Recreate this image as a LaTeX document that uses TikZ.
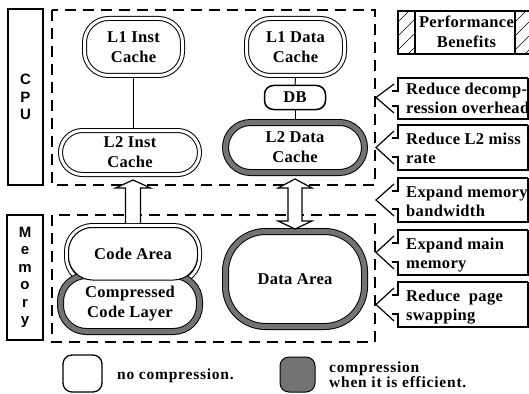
\documentclass[tikz,border=0pt]{standalone}
\usepackage{fontspec}
\newfontfamily\cellfamily{Liberation Serif}[LetterSpace=2]
\newfontfamily\legendfamily{Liberation Serif}[LetterSpace=5]
\newfontfamily\sidefamily{Liberation Sans}
\newcommand\cellfont{\cellfamily\bfseries\fontsize{16.5}{20}\selectfont}
\newcommand\legendfont{\legendfamily\bfseries\fontsize{15.5}{15}\selectfont}
\newcommand\sidefont{\sidefamily\bfseries\fontsize{15}{17.5}\selectfont}
\definecolor{shade}{gray}{0.45}
\usetikzlibrary{calc}

\begin{document}
\begin{tikzpicture}[x=1pt,y=-1pt,
    cell/.style={draw,line width=1pt,double=white,double distance=3pt,fill=white,
      rounded corners=24pt,outer sep=2.5pt,inner sep=0pt,align=center,font=\cellfont},
    graycell/.style={cell,double=shade,double distance=5pt,outer sep=3.5pt},
    dashbox/.style={line width=1.3pt,dash pattern=on 11pt off 7pt},
    sidebox/.style={draw,line width=1.5pt,inner sep=0pt,align=center,font=\sidefont},
    hollow/.style={draw,line width=1.2pt,fill=white,line join=miter},
    benefit/.style={line width=1.2pt},
    benefittext/.style={font=\cellfont,anchor=base west,inner sep=0pt}]
  \useasboundingbox (0,0) rectangle (529,393);

  % side labels
  \node[sidebox,minimum width=35pt,minimum height=176pt] (cpu) at (25.5,97) {C\\P\\U};
  \node[sidebox,minimum width=36pt,minimum height=125pt] (memory) at (25,277.5) {M\\e\\m\\o\\r\\y};

  % dashed regions
  \draw[dashbox] (52,10) rectangle (375,185);
  \draw[dashbox] (52,215) rectangle (375,342);

  % caches
  \node[cell,minimum width=98pt,minimum height=57pt] (l1inst) at (133.5,47) {L1 Inst\\Cache};
  \node[cell,minimum width=98pt,minimum height=57pt] (l1data) at (295.5,47) {L1 Data\\Cache};
  \node[draw,line width=1.5pt,fill=white,rounded corners=9pt,minimum width=61pt,
    minimum height=24pt,inner sep=0pt,font=\cellfont] (db) at (295,97.5) {DB};
  \node[cell,minimum width=139pt,minimum height=44pt,rounded corners=22pt] (l2inst) at (130,152.5) {L2 Inst\\Cache};
  \node[graycell,minimum width=139pt,minimum height=50pt,rounded corners=25pt] (l2data) at (295,147.5) {L2 Data\\Cache};

  \draw[line width=1pt] (l1inst.south) -- (l1inst.south |- l2inst.north);
  \draw[line width=1pt] (l1data.south) -- (db.north);
  \draw[line width=1pt] (db.south) -- (db.south |- l2data.north);

  % memory areas
  \node[cell,minimum width=133pt,minimum height=57.5pt,rounded corners=26pt] (codearea) at (133,254.25) {};
  \node[graycell,minimum width=139pt,minimum height=56pt,rounded corners=26pt] (codelayer) at (130,303.5) {Compressed\\Code Layer};
  \node[draw,line width=1pt,fill=white,rounded corners=24pt,minimum width=129pt,
    minimum height=52.5pt,inner sep=0pt,font=\cellfont] (codetext) at (133,253.75) {Code Area};
  \node[graycell,minimum width=139pt,minimum height=95pt,rounded corners=40pt] (dataarea) at (295,279) {Data Area};

  % hollow arrows
  \coordinate (ctip) at ($(l2inst.south -| codearea.north)+(0,3)$);
  \draw[hollow] ($(codearea.north)+(-7.5,0)$) -- ($(ctip)+(-7.5,8)$) -- ($(ctip)+(-17.5,8)$)
    -- (ctip) -- ($(ctip)+(17.5,8)$) -- ($(ctip)+(7.5,8)$) -- ($(codearea.north)+(7.5,0)$);
  \coordinate (dtop) at ($(l2data.south)+(0,3)$);
  \coordinate (dbot) at ($(dataarea.north)+(0,1)$);
  \draw[hollow] (dtop) -- ($(dtop)+(17,9)$) -- ($(dtop)+(7,9)$) -- ($(dbot)+(7,-8)$)
    -- ($(dbot)+(17,-8)$) -- (dbot) -- ($(dbot)+(-17,-8)$) -- ($(dbot)+(-7,-8)$)
    -- ($(dtop)+(-7,9)$) -- ($(dtop)+(-17,9)$) -- cycle;

  % performance benefits
  \draw[benefit] (398,11) rectangle (540,54);
  \draw[benefit] (415,11) -- (415,54);
  \draw[benefit] (515,11) -- (515,54);
  \begin{scope}
    \clip (398,11) rectangle (415,54);
    \foreach \k in {0,...,4}
      \draw (398,22+14*\k) -- ++(20,-20);
  \end{scope}
  \begin{scope}
    \clip (515,11) rectangle (529,54);
    \foreach \k in {0,...,4}
      \draw (515,22+14*\k) -- ++(20,-20);
  \end{scope}
  \node[font=\cellfont,align=center,inner sep=0pt] (perf) at (466.5,32) {Performance\\Benefits};

  \foreach \t/\m/\b/\one/\two in {78/97.5/119/Reduce decomp-/ression overhead,
      125/147.5/170/Reduce L2 miss/rate,
      178/200/222/Expand memory/bandwidth,
      230/252.5/275/Expand main/memory,
      282/304.5/327/Reduce~ page/swapping}{
    \draw[benefit] (528,\t) -- (398,\t) -- (398,\t+13) -- (392,\t+13);
    \draw[benefit] (394,\t+6) -- (376,\m) -- (394,\b-6);
    \draw[benefit] (392,\b-13) -- (398,\b-13) -- (398,\b) -- (528,\b) -- (528,\t);
    \node[benefittext] (gain\t) at (406,\m-3) {\one};
    \node[benefittext] (more\t) at (406,\m+16) {\two};
  }

  % legend
  \node[draw,line width=1.3pt,rounded corners=9pt,minimum width=39pt,minimum height=37pt] (plain) at (82.5,373.5) {};
  \node[font=\legendfont,anchor=base west,inner sep=0pt] (plaintext) at (117,379) {no compression.};
  \node[draw,line width=1pt,fill=shade,rounded corners=9pt,minimum width=35pt,minimum height=35pt] (packed) at (297.5,374.5) {};
  \node[font=\legendfont,anchor=base west,inner sep=0pt] (packedtext) at (329,372) {compression};
  \node[font=\legendfont,anchor=base west,inner sep=0pt] (packedmore) at (329,387) {when it is efficient.};
\end{tikzpicture}
\end{document}
